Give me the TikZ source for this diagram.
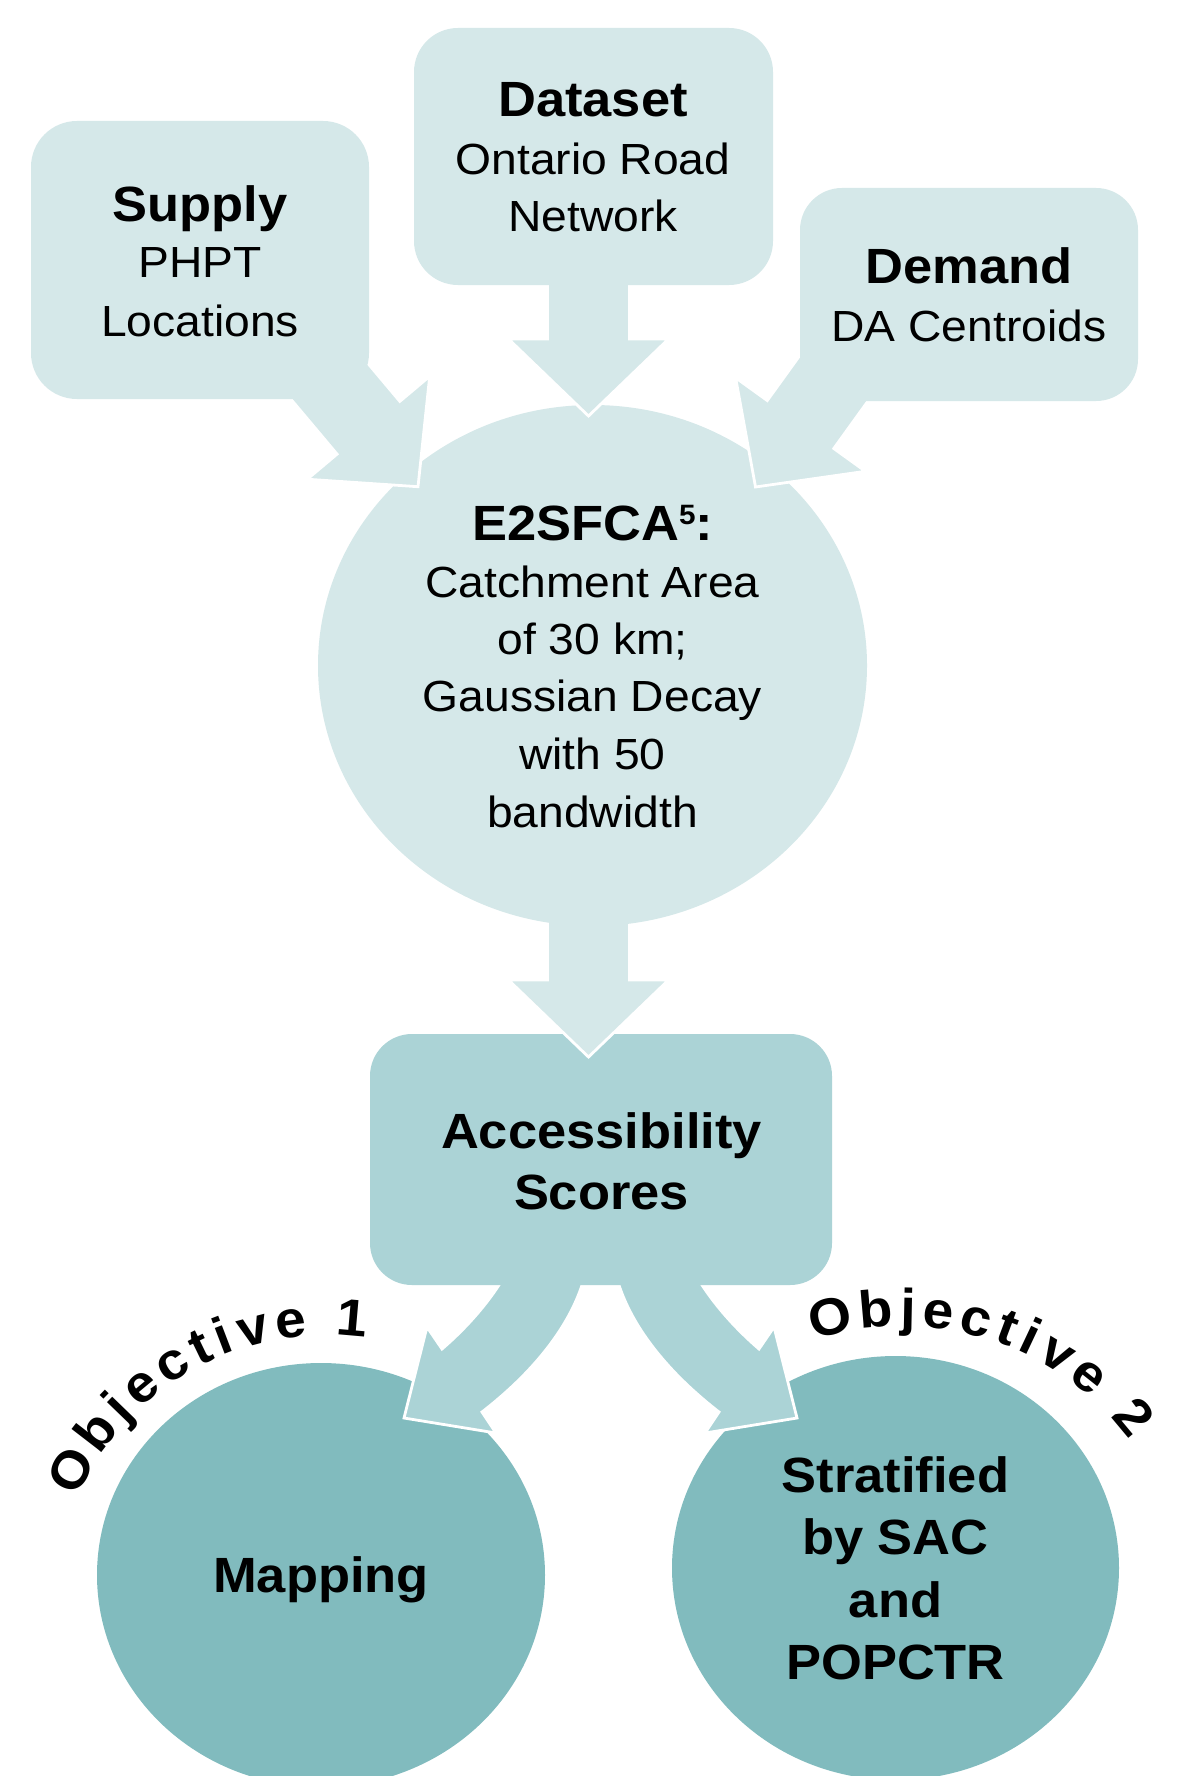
\documentclass[tikz,border=0pt]{standalone}
\usepackage{fontspec}
\setmainfont{Liberation Sans}[FakeStretch=1.06]
\usetikzlibrary{calc,shapes.geometric}

\definecolor{paleteal}{RGB}{213,232,233}
\definecolor{midteal}{RGB}{171,211,214}
\definecolor{deepteal}{RGB}{129,187,190}

\tikzset{
  bubble/.style={ellipse, draw=none, inner sep=0pt},
  roundbox/.style={rectangle, draw=none, inner sep=0pt, rounded corners=#1},
  arrowbody/.style={fill=paleteal, draw=white, line width=1.4pt, line join=miter},
  bendarrow/.style={fill=midteal, draw=white, line width=1.4pt, line join=miter},
  headtxt/.style={font=\fontsize{24.75pt}{30pt}\selectfont\bfseries, anchor=base, inner sep=0pt},
  bodytxt/.style={font=\fontsize{21.8pt}{28pt}\selectfont, anchor=base, inner sep=0pt},
  arctxt/.style={font=\fontsize{26pt}{30pt}\selectfont\bfseries, anchor=base, inner sep=0pt},
}

% straight block arrow from a tail coordinate to a tip coordinate
\newcommand\blockarrow[3][]{%
  \coordinate (ba-neck) at ($(#3)!38.5pt!(#2)$);
  \filldraw[arrowbody,#1]
    ($(#2)!20.5pt!90:(#3)$) -- ($(ba-neck)!20.5pt!90:(#3)$)
    -- ($(ba-neck)!40pt!90:(#3)$) -- (#3)
    -- ($(ba-neck)!40pt!-90:(#3)$) -- ($(ba-neck)!20.5pt!-90:(#3)$)
    -- ($(#2)!20.5pt!-90:(#3)$) -- cycle;
}

\begin{document}
\begin{tikzpicture}[x=0.5pt,y=-0.5pt]
\useasboundingbox (0,0) rectangle (1180,1776);
\fill[white] (0,0) rectangle (1180,1776);

% objective circles
\node[bubble, fill=deepteal, minimum width=224pt, minimum height=212pt] (mapping) at (321,1575) {};
\node[bubble, fill=deepteal, minimum width=223.5pt, minimum height=212pt] (strat) at (895.5,1568) {};

% curved arrows leaving the scores box
\filldraw[bendarrow] (499,1285) .. controls (484,1308) and (464,1330) .. (442,1349)
  -- (427,1327) -- (404,1418) -- (496,1433) -- (482,1412)
  .. controls (540,1367) and (570,1322) .. (582,1285) -- (586,1265) -- (512,1265) -- cycle;
\filldraw[bendarrow] (702,1285) .. controls (717,1308) and (737,1330) .. (759,1349)
  -- (774,1327) -- (797,1418) -- (705,1433) -- (719,1412)
  .. controls (661,1367) and (631,1322) .. (619,1285) -- (615,1265) -- (689,1265) -- cycle;

% scores box
\node[roundbox=21pt, fill=midteal, minimum width=231pt, minimum height=125.5pt] (access) at (601,1159.5) {};

% arrow from the model to the scores
\coordinate (midTail) at (588.5,880);
\coordinate (midTip) at (588.5,1057);
\blockarrow{midTail}{midTip}

% model circle
\node[bubble, fill=paleteal, minimum width=274.5pt, minimum height=260.5pt] (e2sfca) at (592.5,665.5) {};

% input arrows
\coordinate (dataTail) at (588.5,250);
\coordinate (dataTip) at (588.5,416);
\coordinate (supTail) at (284.6,328);
\coordinate (supTip) at (418,486.7);
\coordinate (demTail) at (876.8,318.7);
\coordinate (demTip) at (755.5,487);
\blockarrow{dataTail}{dataTip}
\blockarrow{supTail}{supTip}
\blockarrow{demTail}{demTip}

% input boxes
\node[roundbox=23pt, fill=paleteal, minimum width=169pt, minimum height=139pt] (supply) at (200,260) {};
\node[roundbox=22pt, fill=paleteal, minimum width=179.5pt, minimum height=128.5pt] (dataset) at (593.5,156.5) {};
\node[roundbox=21pt, fill=paleteal, minimum width=169pt, minimum height=106.5pt] (demand) at (969,294.5) {};

% labels
\node[headtxt] (supT1) at (200,221) {Supply};
\node[bodytxt] (supT2) at (200,278) {PHPT};
\node[bodytxt] (supT3) at (200,336) {Locations};

\node[headtxt] (datT1) at (593,117) {Dataset};
\node[bodytxt] (datT2) at (593,175) {Ontario Road};
\node[bodytxt] (datT3) at (593,232) {Network};

\node[headtxt] (demT1) at (969,283) {Demand};
\node[bodytxt] (demT2) at (969,341) {DA Centroids};

\node[headtxt] (e2T1) at (592.5,540) {E2SFCA\raisebox{8pt}{\fontsize{14pt}{14pt}\selectfont 5}:};
\node[bodytxt] (e2T2) at (592.5,597) {Catchment Area};
\node[bodytxt] (e2T3) at (592.5,654) {of 30 km;};
\node[bodytxt] (e2T4) at (592.5,711.5) {Gaussian Decay};
\node[bodytxt] (e2T5) at (592.5,769.5) {with 50};
\node[bodytxt] (e2T6) at (592.5,827) {bandwidth};

\node[headtxt] (accT1) at (601.5,1148) {Accessibility};
\node[headtxt] (accT2) at (601.5,1209.5) {Scores};

\node[headtxt] (mapT) at (321,1592) {Mapping};

\node[headtxt] (strT1) at (895.5,1492) {Stratified};
\node[headtxt] (strT2) at (895.5,1554.5) {by SAC};
\node[headtxt] (strT3) at (895.5,1617) {and};
\node[headtxt] (strT4) at (895.5,1679.5) {POPCTR};

% arched captions: letter, arc position of its centre
\foreach \ch/\s [count=\k] in {O/20.25,b/63.9,j/94.55,e/123.75,c/160.15,t/190.75,i/214.15,v/243.35,e/279.75,1/338.15}{
  \pgfmathsetmacro\ang{118.85-(\s-176.3)/274*57.29578}
  \node[arctxt, rotate=\ang-90] (objA\k) at ({327+274*cos(\ang)},{1609-274*sin(\ang)}) {\ch};
}
\foreach \ch/\s [count=\k] in {O/20.25,b/63.9,j/94.55,e/123.75,c/160.15,t/190.75,i/214.15,v/243.35,e/279.75,2/338.15}{
  \pgfmathsetmacro\ang{72.4-(\s-176.3)/285*57.29578}
  \node[arctxt, rotate=\ang-90] (objB\k) at ({902+285*cos(\ang)},{1611-285*sin(\ang)}) {\ch};
}
\end{tikzpicture}
\end{document}
